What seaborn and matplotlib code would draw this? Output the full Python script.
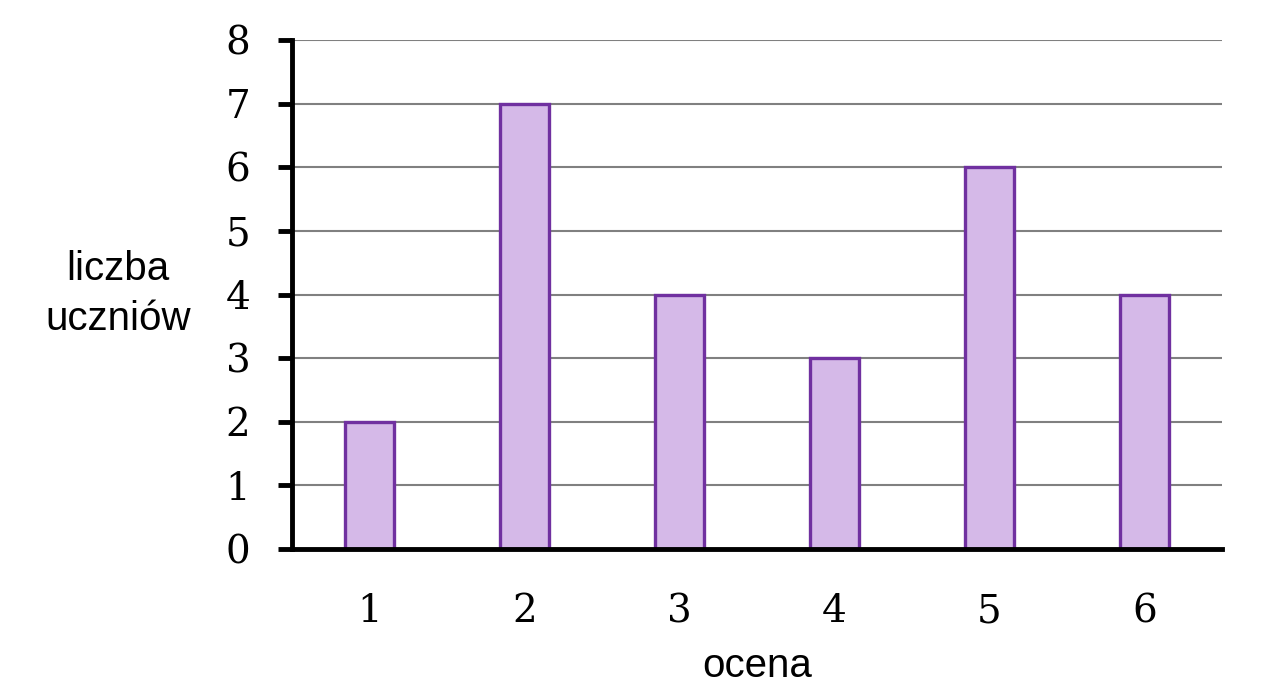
import pandas as pd
import seaborn as sns
import matplotlib.pyplot as plt

# data
oceny = ["1", "2", "3", "4", "5", "6"]
liczba_uczniow = [2, 7, 4, 3, 6, 4]

FILL = "#D5B9E8"
EDGE = "#7030A0"


def main():
    df = pd.DataFrame({"ocena": oceny, "liczba": liczba_uczniow})

    sns.set_style("white")
    plt.rcParams["text.color"] = "black"
    fig = plt.figure(figsize=(12.82, 6.92), dpi=100)
    ax = fig.add_axes([0.2278, 0.2066, 0.7254, 0.7354])

    sns.barplot(data=df, x="ocena", y="liczba", color=FILL, saturation=1,
                width=0.32, edgecolor=EDGE, linewidth=2.4, ax=ax, zorder=3)

    ax.set_ylim(0, 8)
    ax.set_xlim(-0.5, 5.5)
    ax.set_yticks(range(0, 9))
    ax.yaxis.grid(True, color="#808080", linewidth=1.5, zorder=0)
    ax.set_axisbelow(True)

    for s in ["top", "right"]:
        ax.spines[s].set_visible(False)
    for s in ["left", "bottom"]:
        ax.spines[s].set_color("black")
        ax.spines[s].set_linewidth(3.5)
        ax.spines[s].set_zorder(4)

    ax.tick_params(axis="y", left=True, direction="out", length=10, width=3.5,
                   color="black", labelcolor="black", pad=20)
    ax.tick_params(axis="x", bottom=False, length=0, pad=32, labelcolor="black")
    for lab in ax.get_xticklabels() + ax.get_yticklabels():
        lab.set_fontfamily("DejaVu Serif")
        lab.set_fontsize(28)

    ax.set_xlabel("")
    ax.set_ylabel("")
    fig.text(0.5905, 0.037, "ocena", ha="center", va="center",
             fontsize=29, family="Liberation Sans")
    fig.text(0.092, 0.575, "liczba\nuczniów", ha="center", va="center",
             fontsize=29, family="Liberation Sans", linespacing=1.4)

    fig.savefig("out.png", dpi=100)
    plt.close(fig)


if __name__ == "__main__":
    main()
